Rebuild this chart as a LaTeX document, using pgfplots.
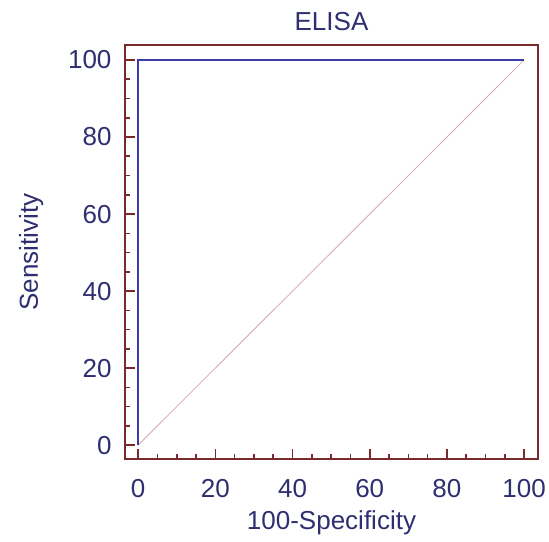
\documentclass[border=0pt]{standalone}
\usepackage{pgfplots}
\pgfplotsset{compat=1.18}
\usepackage{fontspec}
\setmainfont{Liberation Sans}
\definecolor{frame}{HTML}{7A2A2A}
\definecolor{navy}{HTML}{2E2E70}
\definecolor{roc}{HTML}{3C3CA8}
\definecolor{diag}{HTML}{D8A8A8}
\begin{document}
\begin{tikzpicture}[x=1pt,y=1pt]
\useasboundingbox (-125,-82) rectangle (424,459);
\begin{axis}[
  at={(0,0)}, anchor=south west,
  scale only axis, width=413pt, height=414pt,
  xmin=-3.4, xmax=103.6, ymin=-3.6, ymax=103.9,
  xtick={0,20,...,100}, ytick={0,20,...,100},
  minor tick num=3,
  tick align=inside,
  xtick pos=bottom, ytick pos=left,
  major tick length=10pt, minor tick length=5pt,
  every tick/.style={frame, line width=1.6pt},
  axis line style={frame, line width=2.5pt},
  ticklabel style={font=\fontsize{26}{26}\selectfont, text=navy},
  /pgf/number format/assume math mode=true,
  xticklabel style={yshift=-17pt},
  yticklabel style={xshift=-10pt},
  xlabel={100-Specificity}, ylabel={Sensitivity},
  label style={font=\fontsize{26}{26}\selectfont, text=navy},
  xlabel style={yshift=-6pt},
  ylabel style={yshift=18pt},
  title={ELISA},
  title style={font=\fontsize{26}{26}\selectfont, text=navy, yshift=5pt},
  clip=false,
]
% chance diagonal
\addplot[diag, line width=0.8pt] coordinates {(0,0) (100,100)};
% empirical ROC curve
\addplot[roc, line width=2.2pt] coordinates {(0,0) (0,100) (100,100)};
\end{axis}
\end{tikzpicture}
\end{document}
